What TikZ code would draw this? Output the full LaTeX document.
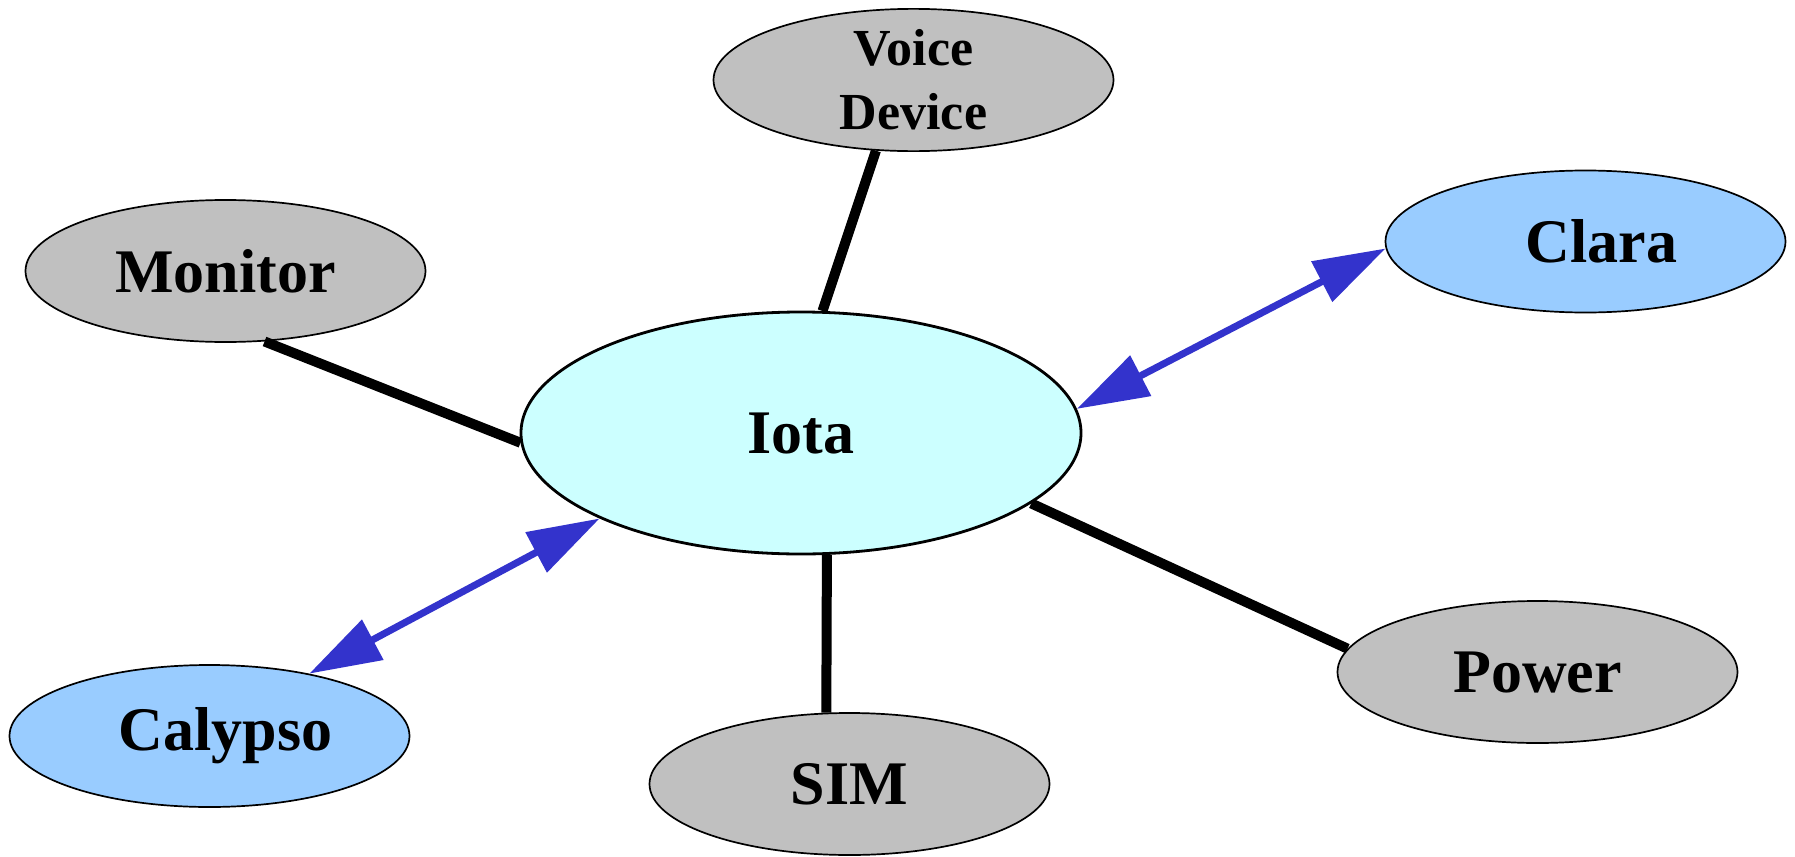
\documentclass[tikz,border=0pt]{standalone}
\usepackage{fontspec}
\setmainfont{Liberation Serif}
\usepackage{tikz}
\usetikzlibrary{shapes.geometric,arrows.meta}
\definecolor{partgray}{RGB}{192,192,192}
\definecolor{chipblue}{RGB}{153,204,255}
\definecolor{hubcyan}{RGB}{204,255,255}
\definecolor{linkblue}{RGB}{51,51,204}

\begin{document}
\begin{tikzpicture}[x=0.5bp,y=-0.5bp,
		part/.style={ellipse,draw,line width=0.85bp,fill=partgray,minimum width=200bp,minimum height=71bp,inner sep=0pt,font=\fontsize{31bp}{37bp}\selectfont\bfseries},
		chip/.style={part,fill=chipblue,execute at begin node={\hspace*{16bp}}},
		hub/.style={part,fill=hubcyan,line width=1.4bp,minimum width=280bp,minimum height=121bp},
		wire/.style={line width=5bp},
		link/.style={line width=3.5bp,draw=linkblue,{Triangle[length=36bp,width=22bp,fill=linkblue]}-{Triangle[length=36bp,width=22bp,fill=linkblue]}}]
			\useasboundingbox (0,0) rectangle (1795,857);
			\node[hub] (iota) at (801,433) {Iota};
			\node[part,align=center,font=\fontsize{26bp}{32bp}\selectfont\bfseries] (voice) at (913.5,80) {Voice\\Device};
			\node[part] (monitor) at (225.5,271) {Monitor};
			\node[chip] (clara) at (1585.5,241.5) {Clara};
			\node[chip] (calypso) at (209.5,736) {Calypso};
			\node[part] (sim) at (849.5,784) {SIM};
			\node[part] (power) at (1537.5,672) {Power};
			\draw[wire] (monitor.-61.5) -- (iota.182);
			\draw[wire] (voice.242) -- (iota.80);
			\draw[wire] (sim.108.5) -- (iota.-78.6);
			\draw[wire] (power.173.8) -- (iota.-17);
			\draw[link] (iota.5.2) -- (clara.182);
			\draw[link] (calypso.32) -- (iota.203.7);
		\end{tikzpicture}
\end{document}
